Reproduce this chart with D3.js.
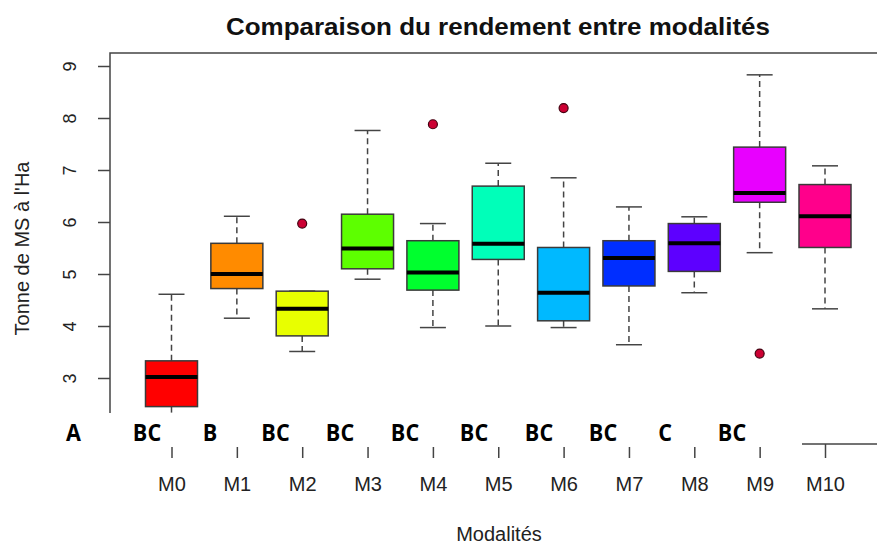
<!DOCTYPE html>
<html><head><meta charset="utf-8">
<script src="https://cdn.jsdelivr.net/npm/d3@7"></script>
<style>body{margin:0;background:#fff}svg{display:block}</style>
</head><body>
<script>
const categories = ["M0","M1","M2","M3","M4","M5","M6","M7","M8","M9","M10"];
const colors = ["#FF0000","#FF8B00","#E8FF00","#5DFF00","#00FF2E","#00FFB9","#00B9FF","#002EFF","#5D00FF","#E800FF","#FF008B"];
const whiskerLow  = [2.30,4.15,3.51,4.90,3.97,4.00,3.97,3.64,4.64,5.41,4.33];
const q1          = [2.45,4.72,3.81,5.10,4.69,5.28,4.10,4.77,5.05,6.38,5.51];
const medians     = [3.02,5.00,4.33,5.49,5.03,5.58,4.64,5.31,5.59,6.56,6.11];
const q3          = [3.33,5.59,4.67,6.15,5.64,6.69,5.51,5.64,5.97,7.44,6.72];
const whiskerHigh = [4.61,6.11,4.67,7.76,5.97,7.13,6.85,6.29,6.10,8.83,7.08];
const outliers = [
  {cat:"M2", value:5.97},
  {cat:"M4", value:7.88},
  {cat:"M6", value:8.19},
  {cat:"M9", value:3.47}
];
const yTicks = [3,4,5,6,7,8,9];
const groupLetters = ["A","BC","B","BC","BC","BC","BC","BC","BC","C","BC"];
const letterX = [73.5,147,210,275.5,340,405,474,539,603,665,732];

const W = 877, H = 545;
const pLeft = 110, pTop = 53, pBottom = 444, pRight = 888;
const svg = d3.select("body").append("svg").attr("width",W).attr("height",H);

const x = d3.scalePoint().domain(categories).range([171.5, 825]);
const y = d3.scaleLinear().domain([3,9]).range([378,66]);
const boxW = 52, capW = 26;
const data = categories.map((c,i)=>({c, col:colors[i], lo:whiskerLow[i], q1:q1[i], med:medians[i], q3:q3[i], hi:whiskerHigh[i]}));

const g = svg.append("g");
const bx = g.selectAll("g.box").data(data).join("g");
bx.append("line").attr("x1",d=>x(d.c)).attr("x2",d=>x(d.c)).attr("y1",d=>y(d.q3)).attr("y2",d=>y(d.hi))
  .attr("stroke","#444").attr("stroke-width",1.5).attr("stroke-dasharray","6,4");
bx.append("line").attr("x1",d=>x(d.c)).attr("x2",d=>x(d.c)).attr("y1",d=>y(d.q1)).attr("y2",d=>y(d.lo))
  .attr("stroke","#444").attr("stroke-width",1.5).attr("stroke-dasharray","6,4");
bx.append("line").attr("x1",d=>x(d.c)-capW/2).attr("x2",d=>x(d.c)+capW/2).attr("y1",d=>y(d.hi)).attr("y2",d=>y(d.hi))
  .attr("stroke","#444").attr("stroke-width",1.5);
bx.append("line").attr("x1",d=>x(d.c)-capW/2).attr("x2",d=>x(d.c)+capW/2).attr("y1",d=>y(d.lo)).attr("y2",d=>y(d.lo))
  .attr("stroke","#444").attr("stroke-width",1.5);
bx.append("rect").attr("x",d=>x(d.c)-boxW/2).attr("width",boxW).attr("y",d=>y(d.q3)).attr("height",d=>y(d.q1)-y(d.q3))
  .attr("fill",d=>d.col).attr("stroke","#3a3a3a").attr("stroke-width",1.5);
bx.append("line").attr("x1",d=>x(d.c)-boxW/2).attr("x2",d=>x(d.c)+boxW/2).attr("y1",d=>y(d.med)).attr("y2",d=>y(d.med))
  .attr("stroke","#000").attr("stroke-width",4);

g.selectAll("circle.out").data(outliers).join("circle")
  .attr("cx",d=>x(d.cat)).attr("cy",d=>y(d.value)).attr("r",4.5)
  .attr("fill","#CC0033").attr("stroke","#440010").attr("stroke-width",1.2);

svg.append("rect").attr("x",pLeft).attr("y",pTop).attr("width",pRight-pLeft).attr("height",pBottom-pTop)
  .attr("fill","none").attr("stroke","#444").attr("stroke-width",1.5);

const yAxis = d3.axisLeft(y).tickValues(yTicks).tickSize(12).tickPadding(0).tickFormat(d3.format("d"));
const ya = svg.append("g").attr("transform",`translate(${pLeft},0)`).call(yAxis);
ya.select(".domain").remove();
ya.selectAll(".tick line").attr("stroke","#444").attr("stroke-width",1.5);
ya.selectAll(".tick text").attr("transform","translate(-34,0) rotate(-90)").attr("x",0).attr("dy",0)
  .attr("text-anchor","middle").attr("font-family","Liberation Sans, Arial, sans-serif").attr("font-size",18).attr("fill","#222");

const xAxis = d3.axisBottom(x).tickSize(14).tickPadding(0);
const xa = svg.append("g").attr("transform",`translate(0,${pBottom})`).call(xAxis);
xa.select(".domain").remove();
xa.selectAll(".tick line").attr("stroke","#444").attr("stroke-width",1.5);
xa.selectAll(".tick text").attr("y",47).attr("dy",0).attr("font-family","Liberation Sans, Arial, sans-serif").attr("font-size",20).attr("fill","#222");

svg.append("rect").attr("x",0).attr("y",413).attr("width",802).attr("height",34).attr("fill","#fff");

svg.selectAll("text.letter").data(groupLetters).join("text").attr("class","letter")
  .attr("transform",(d,i)=>`translate(${letterX[i]},441) scale(0.9,1)`).attr("text-anchor","middle")
  .attr("font-family","Open Sans, sans-serif").attr("font-weight","bold").attr("font-size",24).attr("fill","#000")
  .text(d=>d);

svg.append("text").attr("x",498).attr("y",35).attr("text-anchor","middle")
  .attr("font-family","Liberation Sans, Arial, sans-serif").attr("font-weight","bold").attr("font-size",24)
  .attr("textLength",544).attr("lengthAdjust","spacingAndGlyphs").attr("fill","#111")
  .text("Comparaison du rendement entre modalités");
svg.append("text").attr("x",499).attr("y",541).attr("text-anchor","middle")
  .attr("font-family","Liberation Sans, Arial, sans-serif").attr("font-size",20).attr("fill","#222").text("Modalités");
svg.append("text").attr("transform","translate(29,248.5) rotate(-90)").attr("text-anchor","middle")
  .attr("font-family","Liberation Sans, Arial, sans-serif").attr("font-size",20).attr("fill","#222").text("Tonne de MS à l'Ha");
</script>
</body></html>
